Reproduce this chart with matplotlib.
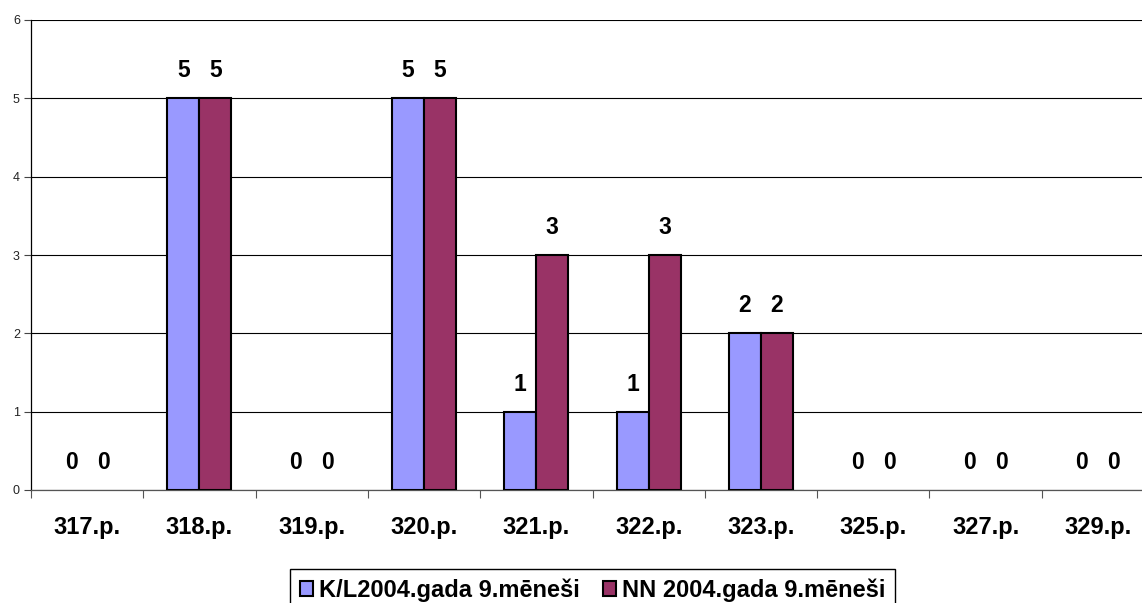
import matplotlib
matplotlib.use("Agg")
import matplotlib.pyplot as plt
import numpy as np
from matplotlib.patches import Patch

categories = ["317.p.", "318.p.", "319.p.", "320.p.", "321.p.", "322.p.", "323.p.", "325.p.", "327.p.", "329.p."]
series_kl = [0, 5, 0, 5, 1, 1, 2, 0, 0, 0]
series_nn = [0, 5, 0, 5, 3, 3, 2, 0, 0, 0]
series_names = ["K/L2004.gada 9.mēneši", "NN 2004.gada 9.mēneši"]
colors = ["#9999FF", "#993366"]
y_ticks = [0, 1, 2, 3, 4, 5, 6]

plt.rcParams['font.family'] = ['Liberation Sans', 'DejaVu Sans']

W, H = 1142, 603
fig = plt.figure(figsize=(W / 100, H / 100), dpi=100)
ax = fig.add_axes([31 / W, 113 / H, 1123 / W, 470 / H])

x = np.arange(len(categories))
bw = 0.285
containers = []
for off, vals, col in ((-bw / 2, series_kl, colors[0]), (bw / 2, series_nn, colors[1])):
    lws = [1.5 if v != 0 else 0 for v in vals]
    c = ax.bar(x + off, vals, bw, color=col, edgecolor="black", linewidth=lws, zorder=3)
    containers.append(c)
for c in containers:
    ax.bar_label(c, fmt="%d", padding=11.5, fontsize=16.5, fontweight="bold", color="black")

ax.set_xlim(-0.5, len(categories) - 0.5)
ax.set_ylim(0, 6)
ax.set_yticks(y_ticks)
ax.set_yticklabels([str(v) for v in y_ticks], fontsize=9, color="#222222")
ax.tick_params(axis="y", length=5, width=0.8, color="#444444", pad=3)
ax.yaxis.grid(True, color="black", linewidth=0.8, zorder=0)
ax.set_axisbelow(True)

ax.set_xticks(x)
ax.set_xticklabels(categories, fontsize=17, fontweight="bold")
ax.tick_params(axis="x", which="major", length=0, pad=19)
ax.set_xticks(np.arange(len(categories) + 1) - 0.5, minor=True)
ax.tick_params(axis="x", which="minor", length=6, width=0.8, color="#555555", direction="out")

for s in ("top", "right"):
    ax.spines[s].set_visible(False)
ax.spines["left"].set_color("black")
ax.spines["left"].set_linewidth(0.9)
ax.spines["bottom"].set_color("#555555")
ax.spines["bottom"].set_linewidth(0.9)

handles = [Patch(facecolor=colors[i], edgecolor="black", linewidth=1.5) for i in range(2)]
leg = fig.legend(handles, series_names, loc="upper center",
                 bbox_to_anchor=(592.5 / W, 1 - 569 / H), ncol=2, frameon=True,
                 fancybox=False, edgecolor="black", framealpha=1,
                 prop={"size": 17, "weight": "bold"},
                 handlelength=0.55, handleheight=0.55, handletextpad=0.25,
                 columnspacing=1.0, borderpad=0.4, borderaxespad=0)
leg.get_frame().set_linewidth(1.0)

fig.savefig("out.png", dpi=100)
